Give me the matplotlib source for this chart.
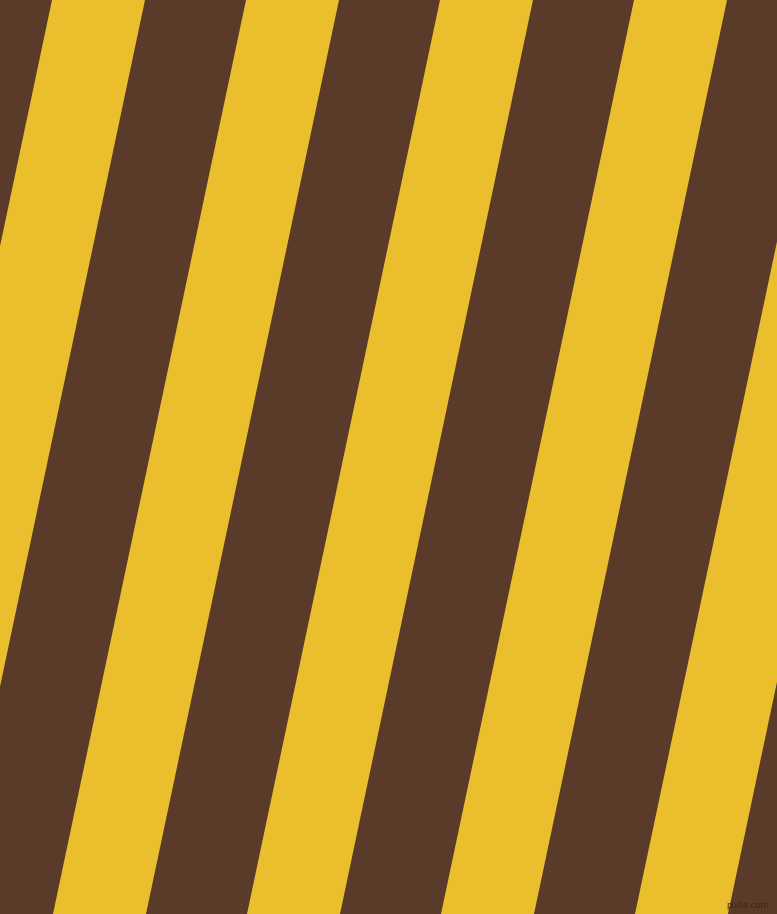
import matplotlib
matplotlib.use('Agg')
import matplotlib.pyplot as plt

# Picture size in pixels
width = 777
height = 914

# Colours of the two stripes
brown = '#5a3a28'
yellow = '#ebbe2e'

# Left edges of the yellow stripes along the top edge, and their width
yellow_tops = [52, 246, 440, 634, 828]
yellow_width = 93
# how far a stripe drifts left from top to bottom
drift = 193

fig = plt.figure(figsize=(width / 100, height / 100), dpi=100)
ax = fig.add_axes([0, 0, 1, 1])
ax.set_xlim(0, width)
ax.set_ylim(height, 0)
ax.axis('off')
ax.add_patch(plt.Rectangle((0, 0), width, height, color=brown))

for x0 in yellow_tops:
    xs = [x0, x0 + yellow_width, x0 + yellow_width - drift, x0 - drift]
    ys = [0, 0, height, height]
    ax.fill(xs, ys, color=yellow, linewidth=0)

# small watermark in the corner
ax.text(769, 905, 'pixlis.com', color='#3d2616', fontsize=6, ha='right', va='center')

fig.savefig('out.png', dpi=100)
